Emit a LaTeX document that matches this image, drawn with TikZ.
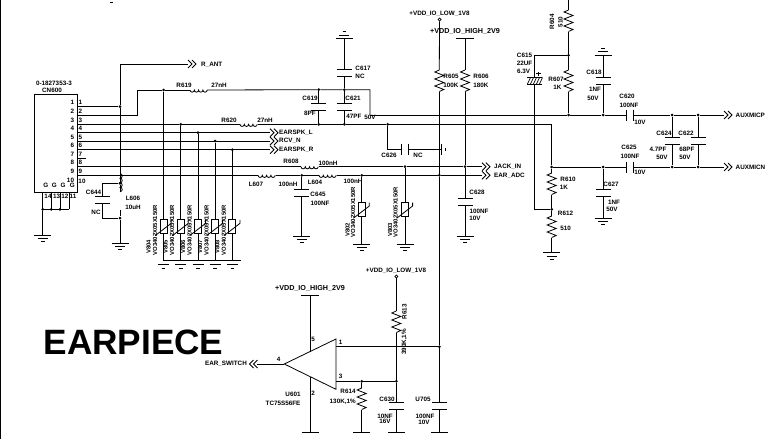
\documentclass[tikz,border=0pt]{standalone}
\usepackage{fontspec}
\setmainfont{Liberation Sans}

\tikzset{
  wire/.style={line width=0.8pt},
  lbl/.style={font=\bfseries\fontsize{6.3}{7}\selectfont, inner sep=0pt},
  lblbig/.style={font=\bfseries\fontsize{7.2}{8}\selectfont, inner sep=0pt},
  vlbl/.style={lbl, rotate=90},
  vari lbl/.style={font=\bfseries\fontsize{5.9}{7}\selectfont, inner sep=0pt, rotate=90},
  dot/.style={circle, fill=black, inner sep=0pt, minimum size=3pt},
  hollow/.style={circle, draw, fill=white, line width=0.7pt, inner sep=0pt, minimum size=3pt},
  resv/.pic={\draw[wire] (0,0) -- (-4.5,2) -- (4.5,5.5) -- (-4.5,9) -- (4.5,12.5) -- (-4.5,16) -- (4.5,19.5) -- (0,21.5);},
  capv/.pic={\draw[wire] (-7.5,0) -- (7.5,0) (-7.5,7) -- (7.5,7);},
  caph/.pic={\draw[wire] (0,-5.5) -- (0,5.5) (7,-5.5) -- (7,5.5);},
  gnd/.pic={\draw[wire] (-8.5,0) -- (8.5,0);
    \draw[wire] (-5,3.2) -- (5,3.2);
    \draw[wire] (-1.8,6.5) -- (1.8,6.5);},
  gndbar/.pic={\draw[wire] (-8.5,0) -- (8.5,0);},
  gndsmall/.pic={\draw[wire] (-5.5,0) -- (5.5,0);
    \draw[wire] (-1.8,4) -- (1.8,4);},
  vari/.pic={\draw[wire,fill=white] (-3.5,-7) rectangle (3.5,7);
    \draw[wire] (-8.4,9) -- (7.6,-3.3) -- (7.6,-6.8);},
  indh/.pic={\draw[wire] (0,0) arc (180:0:2.15) arc (180:0:2.15) arc (180:0:2.15) arc (180:0:2.15);},
  indv/.pic={\draw[wire] (0,0) arc (90:-90:2.25) arc (90:-90:2.25) arc (90:-90:2.25) arc (90:-90:2.25);},
  chevr/.pic={\draw[wire] (0,-4) -- (4,0) -- (0,4) (4,-4) -- (8,0) -- (4,4);},
  chevl/.pic={\draw[wire] (8,-4) -- (4,0) -- (8,4) (4,-4) -- (0,0) -- (4,4);},
}

\begin{document}
\begin{tikzpicture}[x=1pt,y=-1pt]
\useasboundingbox (0,0) rectangle (765,439);

% frame scrap
\draw[line width=1pt] (0.4,0) -- (0.4,439);
\draw[line width=1pt] (110,2) -- (113,2);

% connector
\node[draw, line width=0.8pt, minimum width=43pt, minimum height=98pt, inner sep=0pt] (cn600) at (55.5,143.6) {};
\node[lbl] (cnpart) at (54,83) {0-1827353-3};
\node[lbl] (cnname) at (52,90.7) {CN600};
\foreach \n/\y in {1/106.7,2/115.3,3/124.3,4/132.7,5/141,6/149.7,7/158,8/166.7,9/175.3}{
  \coordinate (pin\n) at (77,\y);
  \node[lbl] (pa\n) at (72.5,\y-4) {\n};
  \node[lbl] (pb\n) at (80.5,\y-4) {\n};
}
\node[lbl] (pa10) at (70.5,180.7) {10};
\node[lbl] (pb10) at (82,181.7) {10};
\draw[wire] (pin7) -- (85.5,158);
\foreach \n/\x/\g in {14/48/42.7,13/56.7/51.3,12/65/60,11/73/69.3}{
  \node[lbl] (gn\n) at (\x,196.7) {\n};
  \node[lbl] (gl\n) at (\g+3,185.7) {G};
  \coordinate (gb\n) at (\g,209.3);
  \draw[wire] (\g,192.7) -- (gb\n);
}
\draw[wire] (gb14) -- (gb11);
\node[dot] (j14) at (gb14) {};
\node[dot] (j13) at (gb13) {};
\node[dot] (j12) at (gb12) {};
\coordinate (cngnd) at (42.7,235.3);
\draw[wire] (j14) -- (cngnd);
\pic at (cngnd) {gnd};

% R_ANT and L606, C644
\node[dot] (jant) at (120,106.7) {};
\coordinate (antcorner) at (120,64);
\coordinate (antend) at (188,64);
\draw[wire] (pin1) -- (jant);
\draw[wire] (jant) -- (antcorner) -- (antend);
\pic at (antend) {chevr};
\node[lbl, anchor=west] (rant) at (201,64.5) {R\_ANT};
\node[dot] (j644t) at (120,183.3) {};
\node[dot] (j644b) at (120,218) {};
\coordinate (l606t) at (120,191.7);
\coordinate (l606b) at (120,209.7);
\draw[wire] (jant) -- (j644t) -- (l606t);
\pic at (l606t) {indv};
\draw[wire] (l606b) -- (j644b);
\coordinate (l606g) at (120,243);
\draw[wire] (j644b) -- (l606g);
\pic at (l606g) {gnd};
\coordinate (c644t) at (102.7,196.7);
\coordinate (c644b) at (102.7,203.7);
\draw[wire] (j644t) -| (c644t);
\draw[wire] (j644b) -| (c644b);
\pic at (c644t) {capv};
\node[lbl] (c644) at (93.5,192.7) {C644};
\node[lbl] (c644v) at (96,212) {NC};
\node[lbl] (l606) at (133,198.7) {L606};
\node[lbl] (l606v) at (133,207.5) {10uH};

% top rail with R619, C617, C619, C621
\coordinate (r619a) at (190,90);
\coordinate (r619b) at (207,90);
\coordinate (pin2c) at (137.5,115.3);
\coordinate (pin2d) at (137.5,90);
\node[dot] (j804) at (163.5,90) {};
\draw[wire] (pin2) -- (pin2c) -- (pin2d) -- (j804) -- (r619a);
\pic at (r619a) {indh};
\node[lbl] (r619) at (184,85.5) {R619};
\node[lbl] (r619v) at (219,85.5) {27nH};
\node[dot] (j619) at (318.7,89.7) {};
\node[dot] (j621) at (344.3,89.7) {};
\coordinate (railc) at (370,89.7);
\coordinate (raild) at (370,115);
\draw[wire] (r619b) -- (j619) -- (j621) -- (railc) -- (raild);

\coordinate (r620a) at (240,124.3);
\coordinate (r620b) at (257.5,124.3);
\node[dot] (j805) at (180.7,124.3) {};
\draw[wire] (pin3) -- (j805) -- (r620a);
\pic at (r620a) {indh};
\node[lbl] (r620) at (229,120) {R620};
\node[lbl] (r620v) at (265,120) {27nH};
\node[dot] (j619b) at (318.7,124.3) {};
\node[dot] (j621b) at (344.3,124.3) {};
\node[dot] (j626) at (387.7,124.3) {};
\coordinate (neg) at (551.7,124.3);
\node[dot] (jneg) at (551.7,167) {};
\draw[wire] (r620b) -- (j619b) -- (j621b) -- (j626) -- (neg) -- (jneg);

\coordinate (c617g) at (344.3,38.3);
\coordinate (c617t) at (344.3,69.3);
\coordinate (c617b) at (344.3,76.3);
\draw[wire] (c617g) -- (c617t) (c617b) -- (j621);
\pic[yscale=-1] at (c617g) {gnd};
\pic at (c617t) {capv};
\node[lbl] (c617) at (363,68.5) {C617};
\node[lbl] (c617v) at (360,76.5) {NC};
\coordinate (c619t) at (318.7,103);
\coordinate (c619b) at (318.7,110);
\draw[wire] (j619) -- (c619t) (c619b) -- (j619b);
\pic at (c619t) {capv};
\node[lbl] (c619) at (310,98.5) {C619};
\node[lbl] (c619v) at (310,113) {8PF};
\coordinate (c621t) at (344.3,103);
\coordinate (c621b) at (344.3,110);
\draw[wire] (j621) -- (c621t) (c621b) -- (j621b);
\pic at (c621t) {capv};
\node[lbl] (c621) at (353,98.5) {C621};
\node[lbl] (c621v) at (354,116.7) {47PF};
\node[lbl] (c621w) at (370,117.5) {50V};

% C626
\coordinate (c626a) at (387.7,149);
\coordinate (c626l) at (401.7,149);
\coordinate (c626r) at (408.7,149);
\coordinate (c626g) at (441.7,149);
\draw[wire] (j626) -- (c626a) -- (c626l) (c626r) -- (c626g);
\pic at (c626l) {caph};
\draw[wire] (441.7,144) -- (441.7,155);
\draw[wire] (445.5,148) -- (445.5,151);
\node[lbl] (c626) at (389,155.7) {C626};
\node[lbl] (c626v) at (418,155.7) {NC};

% speaker nets and varistors
\node[dot] (jv4) at (198,132.7) {};
\node[dot] (jv5) at (215,141) {};
\node[dot] (jv6) at (232.3,149.7) {};
\foreach \p/\t/\y in {4/EARSPK\_L/132.7,5/RCV\_N/141,6/EARSPK\_R/149.7}{
  \coordinate (sp\p) at (270,\y);
  \draw[wire] (pin\p) -- (sp\p);
  \pic at (sp\p) {chevr};
  \node[lbl, anchor=west] (spl\p) at (279,\y) {\t};
}
\foreach \n/\x/\top in {804/163.5/j804,805/180.7/j805,806/198/jv4,807/215/jv5,808/232.3/jv6}{
  \coordinate (v\n) at (\x,226.7);
  \coordinate (vb\n) at (\x,260.7);
  \draw[wire] (\top) -- (vb\n);
  \pic at (v\n) {vari};
  \pic at (\x,264.5) {gndsmall};
  \node[vari lbl] (vn\n) at (\x-15,247) {V\n};
  \node[vari lbl] (vt\n) at (\x-8.5,230) {VO3402X05X150R};
}
\draw[wire] (vb804) -- (240.5,260.7);

% jack nets
\coordinate (r608a) at (301,166.7);
\coordinate (r608b) at (318.5,166.7);
\coordinate (jack) at (482,166.7);
\draw[wire] (pin8) -- (r608a);
\pic at (r608a) {indh};
\node[dot] (j803) at (405,166.7) {};
\node[dot] (j628) at (465,166.7) {};
\draw[wire] (r608b) -- (j803) -- (j628) -- (jack);
\pic at (jack) {chevr};
\node[lbl, anchor=west] (jackl) at (494,166.5) {JACK\_IN};
\node[lbl] (r608) at (291,161) {R608};
\node[lbl] (r608v) at (328,163) {100nH};

\coordinate (l607a) at (258,175.3);
\coordinate (l607b) at (275.5,175.3);
\coordinate (l604a) at (319,175.3);
\coordinate (l604b) at (336.5,175.3);
\coordinate (adc) at (482,175.3);
\node[dot] (j645) at (301.7,175.3) {};
\node[dot] (j802) at (361.7,175.3) {};
\node[dot] (jlow) at (439.3,175.3) {};
\draw[wire] (pin9) -- (l607a);
\pic at (l607a) {indh};
\draw[wire] (l607b) -- (j645) -- (l604a);
\pic at (l604a) {indh};
\draw[wire] (l604b) -- (j802) -- (jlow) -- (adc);
\pic at (adc) {chevr};
\node[lbl, anchor=west] (adcl) at (494,175.7) {EAR\_ADC};
\node[lbl] (l607) at (256,184) {L607};
\node[lbl] (l607v) at (288,184) {100nH};
\node[lbl] (l604) at (315,182) {L604};
\node[lbl] (l604v) at (353,181.7) {100nH};

\coordinate (c645t) at (301.7,189);
\coordinate (c645b) at (301.7,196);
\coordinate (c645g) at (301.7,236);
\draw[wire] (j645) -- (c645t) (c645b) -- (c645g);
\pic at (c645t) {capv};
\pic at (c645g) {gnd};
\node[lbl] (c645) at (318,194.7) {C645};
\node[lbl] (c645v) at (320,203.7) {100NF};

\foreach \n/\top/\x in {802/j802/361.7,803/j803/405}{
  \coordinate (v\n) at (\x,209.3);
  \coordinate (vb\n) at (\x,244);
  \draw[wire] (\top) -- (vb\n);
  \pic at (v\n) {vari};
  \pic at (vb\n) {gnd};
}
\node[vari lbl] (vn802) at (347.5,230) {V802};
\node[vari lbl] (vt802) at (353,212) {VO3402X05X150R};
\node[vari lbl] (vn803) at (390,230) {V803};
\node[vari lbl] (vt803) at (395.7,212) {VO3402X05X150R};

% supplies and R605 R606 C628
\node[lbl] (vlow) at (439.5,13.5) {+VDD\_IO\_LOW\_1V8};
\node[hollow] (plow) at (439.5,19.5) {};
\coordinate (r605a) at (439.3,70);
\coordinate (r605b) at (439.3,91.5);
\draw[wire] (plow) -- (r605a);
\pic at (r605a) {resv};
\node[lbl] (r605) at (451,76.5) {R605};
\node[lbl] (r605v) at (451,85.5) {100K};
\node[dot] (jcomp) at (439.3,346.7) {};
\draw[wire] (r605b) -- (jlow) -- (jcomp);
\coordinate (u705t) at (439.3,402.7);
\coordinate (u705b) at (439.3,409.7);
\coordinate (u705g) at (439.3,432.6);
\draw[wire] (jcomp) -- (u705t) (u705b) -- (u705g);
\pic at (u705t) {capv};
\pic at (u705g) {gndbar};
\node[lbl] (u705) at (423,399) {U705};
\node[lbl] (u705v) at (425,416) {100NF};
\node[lbl] (u705w) at (424,422.5) {10V};

\node[lblbig] (vhigh) at (465,31.5) {+VDD\_IO\_HIGH\_2V9};
\coordinate (phigh) at (465,38.5);
\draw[wire] (456,38.5) -- (474,38.5);
\coordinate (r606a) at (465,70);
\coordinate (r606b) at (465,91.5);
\draw[wire] (phigh) -- (r606a);
\pic at (r606a) {resv};
\draw[wire] (r606b) -- (j628);
\node[lbl] (r606) at (481,76.5) {R606};
\node[lbl] (r606v) at (481,85.5) {180K};
\coordinate (c628t) at (465,198);
\coordinate (c628b) at (465,205);
\coordinate (c628g) at (465,236);
\draw[wire] (j628) -- (c628t) (c628b) -- (c628g);
\pic at (c628t) {capv};
\pic at (c628g) {gnd};
\node[lbl] (c628) at (477,192.5) {C628};
\node[lbl] (c628v) at (479,211.5) {100NF};
\node[lbl] (c628w) at (475,218.7) {10V};

% mic bias
\coordinate (r604top) at (568.5,0);
\coordinate (r604a) at (568.5,10);
\coordinate (r604b) at (568.5,31.5);
\node[dot] (jbias) at (568.5,55.3) {};
\coordinate (r607a) at (568.5,70);
\coordinate (r607b) at (568.5,91.5);
\node[dot] (jr607) at (568.5,115) {};
\draw[wire] (r604top) -- (r604a);
\pic at (r604a) {resv};
\draw[wire] (r604b) -- (jbias) -- (r607a);
\pic at (r607a) {resv};
\draw[wire] (r607b) -- (jr607);
\node[vlbl] (r604) at (552,22) {R604};
\node[vlbl] (r604v) at (560.5,22) {510};
\node[lbl] (r607) at (556,79.5) {R607};
\node[lbl] (r607v) at (557.5,87.5) {1K};

\coordinate (c615t) at (534,55.3);
\coordinate (c615a) at (534,77);
\coordinate (c615b) at (534,84);
\node[dot] (jr612) at (551.7,209.3) {};
\coordinate (c615c) at (534,209.3);
\draw[wire] (jbias) -- (c615t) -- (c615a);
\draw[wire] (c615b) -- (c615c) -- (jr612);
\draw[wire] (527,77) -- (541.5,77);
\draw[wire] (527,84) -- (541.5,84);
\foreach \k in {0,...,4}{
  \draw[line width=0.7pt] (527.5+\k*3,84) -- (530.5+\k*3,77.5);
}
\draw[line width=0.6pt] (536,73.5) -- (541,73.5) (538.5,71.5) -- (538.5,75.5);
\node[lbl] (c615) at (524.5,55.3) {C615};
\node[lbl] (c615v) at (524.5,63.5) {22UF};
\node[lbl] (c615w) at (523.5,71.5) {6.3V};

\coordinate (r610a) at (551.7,173);
\coordinate (r610b) at (551.7,194.5);
\coordinate (r612a) at (551.7,216);
\coordinate (r612b) at (551.7,237.5);
\coordinate (r612g) at (551.7,252.7);
\draw[wire] (jneg) -- (r610a);
\pic at (r610a) {resv};
\draw[wire] (r610b) -- (jr612) -- (r612a);
\pic at (r612a) {resv};
\draw[wire] (r612b) -- (r612g);
\pic at (r612g) {gnd};
\node[lbl] (r610) at (568,179.5) {R610};
\node[lbl] (r610v) at (564,187.5) {1K};
\node[lbl] (r612) at (565.5,213.5) {R612};
\node[lbl] (r612v) at (565.5,228.5) {510};

% aux mic outputs
\node[dot] (j618) at (603,115) {};
\coordinate (c620a) at (626,115);
\coordinate (c620b) at (633,115);
\node[dot] (j624) at (672,115) {};
\node[dot] (j622) at (698,115) {};
\coordinate (micp) at (724,115);
\draw[wire] (raild) -- (jr607) -- (j618) -- (c620a) (c620b) -- (j624) -- (j622) -- (micp);
\pic at (c620a) {caph};
\pic at (micp) {chevr};
\node[lbl, anchor=west] (micpl) at (735.5,115.5) {AUXMICP};
\node[lbl] (c620) at (627,96) {C620};
\node[lbl] (c620v) at (629,105) {100NF};
\node[lbl] (c620w) at (640,122) {10V};

\node[dot] (j627) at (603,167) {};
\coordinate (c625a) at (626,167);
\coordinate (c625b) at (633,167);
\node[dot] (j624b) at (672,167) {};
\node[dot] (j622b) at (698,167) {};
\coordinate (micn) at (724,167);
\draw[wire] (jneg) -- (j627) -- (c625a) (c625b) -- (j624b) -- (j622b) -- (micn);
\pic at (c625a) {caph};
\pic at (micn) {chevr};
\node[lbl, anchor=west] (micnl) at (735.5,167.5) {AUXMICN};
\node[lbl] (c625) at (629,147) {C625};
\node[lbl] (c625v) at (630,156) {100NF};
\node[lbl] (c625w) at (640,172.5) {10V};

\coordinate (c618g) at (603,55);
\coordinate (c618t) at (603,77.7);
\coordinate (c618b) at (603,84.7);
\draw[wire] (c618g) -- (c618t) (c618b) -- (j618);
\pic[yscale=-1] at (c618g) {gnd};
\pic at (c618t) {capv};
\node[lbl] (c618) at (594,72) {C618};
\node[lbl] (c618v) at (595,89.7) {1NF};
\node[lbl] (c618w) at (593,98.5) {50V};

\foreach \n/\x in {624/672,622/698}{
  \coordinate (c\n t) at (\x,137.5);
  \coordinate (c\n b) at (\x,144.5);
  \pic at (c\n t) {capv};
}
\draw[wire] (j624) -- (c624t) (c624b) -- (j624b);
\draw[wire] (j622) -- (c622t) (c622b) -- (j622b);
\node[lbl] (c624) at (664,133) {C624};
\node[lbl] (c624v) at (658,149.7) {4.7PF};
\node[lbl] (c624w) at (662,157.5) {50V};
\node[lbl] (c622) at (686,133) {C622};
\node[lbl] (c622v) at (687,149.7) {68PF};
\node[lbl] (c622w) at (685,157.5) {50V};

\coordinate (c627t) at (603,189);
\coordinate (c627b) at (603,196);
\coordinate (c627g) at (603,218);
\draw[wire] (j627) -- (c627t) (c627b) -- (c627g);
\pic at (c627t) {capv};
\pic at (c627g) {gnd};
\node[lbl] (c627) at (611,184) {C627};
\node[lbl] (c627v) at (614,202.7) {1NF};
\node[lbl] (c627w) at (612,209.7) {50V};

% comparator
\coordinate (cmpa) at (284.3,364);
\coordinate (cmpb) at (336,339);
\coordinate (cmpc) at (336,389.3);
\draw[wire] (cmpa) -- (cmpb) -- (cmpc) -- cycle;
\coordinate (earsw) at (249.5,364);
\draw[wire] (cmpa) -- (257,364);
\pic at (earsw) {chevl};
\node[lbl, anchor=east] (earswl) at (247,364) {EAR\_SWITCH};
\node[lbl] (u601) at (293,394.5) {U601};
\node[lbl] (u601v) at (283,403) {TC75S56FE};
\node[lblbig] (vhigh2) at (310,288.7) {+VDD\_IO\_HIGH\_2V9};
\coordinate (cmpv) at (310,295.7);
\coordinate (cmpv2) at (310,351.5);
\coordinate (cmpg1) at (310,376.5);
\coordinate (cmpg) at (310,432.6);
\draw[wire] (301,295.7) -- (319,295.7);
\draw[wire] (cmpv) -- (cmpv2) (cmpg1) -- (cmpg);
\pic at (cmpg) {gndbar};
\node[lbl] (p5) at (313,339.7) {5};
\node[lbl] (p2) at (313,393) {2};
\node[lbl] (p4) at (278.7,359.7) {4};
\node[lbl] (p1) at (340.7,342.7) {1};
\node[lbl] (p3) at (340.7,376.7) {3};
\coordinate (out1) at (336,346.7);
\coordinate (in3) at (336,381.3);
\node[dot] (j614) at (361.7,381.3) {};
\node[dot] (j613) at (396.3,381.3) {};
\draw[wire] (out1) -- (jcomp);
\draw[wire] (in3) -- (j614) -- (j613);

\coordinate (r614a) at (361.7,388);
\coordinate (r614b) at (361.7,409.5);
\coordinate (r614g) at (361.7,432.6);
\draw[wire] (j614) -- (r614a);
\pic at (r614a) {resv};
\draw[wire] (r614b) -- (r614g);
\pic at (r614g) {gndbar};
\node[lbl] (r614) at (348,391.7) {R614};
\node[lbl] (r614v) at (342.7,402) {130K,1\%};

\node[lbl] (vlow2) at (396,271) {+VDD\_IO\_LOW\_1V8};
\node[hollow] (plow2) at (396.3,276.5) {};
\coordinate (r613a) at (396.3,311);
\coordinate (r613b) at (396.3,332.5);
\draw[wire] (plow2) -- (r613a);
\pic at (r613a) {resv};
\draw[wire] (r613b) -- (j613);
\node[vlbl] (r613) at (404.5,312) {R613};
\node[vlbl] (r613v) at (404.5,342) {390K,1\%};
\coordinate (c630t) at (396.3,402.7);
\coordinate (c630b) at (396.3,409.7);
\coordinate (c630g) at (396.3,432.6);
\draw[wire] (j613) -- (c630t) (c630b) -- (c630g);
\pic at (c630t) {capv};
\pic at (c630g) {gndbar};
\node[lbl] (c630) at (387,399) {C630};
\node[lbl] (c630v) at (385,416) {10NF};
\node[lbl] (c630w) at (385,421.5) {16V};

\node[font=\bfseries\fontsize{35.2}{37}\selectfont, inner sep=0pt] (title) at (133.5,342) {EARPIECE};
\end{tikzpicture}
\end{document}
